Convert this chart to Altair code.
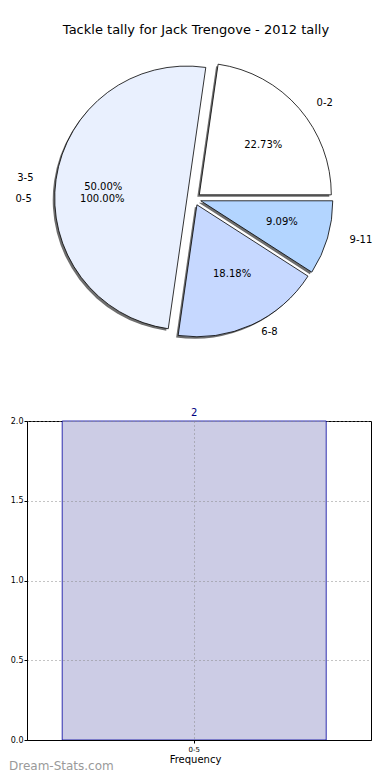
import altair as alt
import pandas as pd

title_text = "Tackle tally for Jack Trengove - 2012 tally"
slice_labels = ["0-2", "3-5", "6-8", "9-11"]
slice_counts = [5, 11, 4, 2]
slice_colors = ["#ffffff", "#e9f0fe", "#c6d8ff", "#b3d5ff"]
slice_explode = [0.05, 0.05, 0.05, 0.05]

outer_labels = ["0-5"]
outer_counts = [2]
outer_explode = [0.05]

bar_categories = ["0-5"]
bar_values = [2]
y_ticks = [0.0, 0.5, 1.0, 1.5, 2.0]
x_title = "Frequency"
watermark = "Dream-Stats.com"

W = 344
PIE_H = 413
BAR_H = 319
CX, CY = 167, 191
RX, RY = 141, 127
R = 132

pie_df = pd.DataFrame({
    "label": slice_labels,
    "count": slice_counts,
    "color": slice_colors,
    "explode": slice_explode,
    "order": list(range(len(slice_labels))),
})
outer_df = pd.DataFrame({
    "label": outer_labels,
    "count": outer_counts,
    "color": ["#ffffff"] * len(outer_labels),
    "explode": outer_explode,
    "order": list(range(len(outer_labels))),
})


def pie_base(df):
    return (
        alt.Chart(df)
        .transform_joinaggregate(total="sum(count)")
        .transform_window(cum="sum(count)", sort=[alt.SortField("order")])
        .transform_calculate(
            a0="360*(datum.cum-datum.count)/datum.total",
            a1="360*datum.cum/datum.total",
        )
        .transform_calculate(
            t0="(90-datum.a1)*PI/180",
            t1="(90-datum.a0)*PI/180",
            m="(90-(datum.a0+datum.a1)/2)*PI/180",
            pct="format(100*datum.count/datum.total, '.2f') + '%'",
        )
        .transform_calculate(
            px=f"{CX}+datum.explode*{RX}*sin(datum.m)",
            py=f"{CY}-datum.explode*{RY}*cos(datum.m)",
        )
        .transform_calculate(
            lx=f"datum.px+1.1*{RX}*sin(datum.m)",
            ly=f"datum.py-1.1*{RY}*cos(datum.m)",
            tx=f"datum.px+0.6*{RX}*sin(datum.m)",
            ty=f"datum.py-0.6*{RY}*cos(datum.m)",
            side="sin(datum.m) > 0 ? 1 : 0",
        )
    )


pos = dict(
    x=alt.X("px:Q", scale=None, axis=None),
    y=alt.Y("py:Q", scale=None, axis=None),
    theta=alt.Theta("t0:Q", scale=None, stack=None),
    theta2=alt.Theta2("t1:Q"),
)

base = pie_base(pie_df)
obase = pie_base(outer_df)

shadow = base.mark_arc(radius=R, color="#6e6e6e", xOffset=-2, yOffset=2).encode(**pos)
wedges = base.mark_arc(radius=R, stroke="black", strokeWidth=0.8).encode(
    fill=alt.Fill("color:N", scale=None), **pos
)


def labels(b, side, align):
    return b.transform_filter(f"datum.side == {side}").mark_text(
        align=align, baseline="middle", fontSize=10, color="black"
    ).encode(
        x=alt.X("lx:Q", scale=None, axis=None),
        y=alt.Y("ly:Q", scale=None, axis=None),
        text="label:N",
    )


def pcts(b):
    return b.mark_text(align="center", baseline="middle", fontSize=10, color="black").encode(
        x=alt.X("tx:Q", scale=None, axis=None),
        y=alt.Y("ty:Q", scale=None, axis=None),
        text="pct:N",
    )


title = alt.Chart(pd.DataFrame({"t": [title_text]})).mark_text(
    fontSize=13, color="black", baseline="middle"
).encode(text="t:N", x=alt.value(CX + 2), y=alt.value(22))

pie = alt.layer(
    shadow, wedges,
    labels(base, 1, "left"), labels(base, 0, "right"), pcts(base),
    labels(obase, 1, "left"), labels(obase, 0, "right"), pcts(obase),
    title,
).properties(width=W, height=PIE_H)

bar_df = pd.DataFrame({"category": bar_categories, "value": bar_values})

xenc = alt.X(
    "category:N",
    scale=alt.Scale(paddingInner=0, paddingOuter=0.1515, align=0.44),
    axis=alt.Axis(
        title=x_title, labelAngle=0, bandPosition=0.5, grid=True, gridDash=[1, 3],
        gridColor="#888888", labelFontSize=7, titleFontSize=10, titleFontWeight="normal",
        tickSize=3, domainColor="black", tickColor="black", labelColor="black",
        titleColor="black", zindex=1, titlePadding=2, labelPadding=2,
        titleX=168, titleAlign="center",
    ),
)
yenc = alt.Y(
    "value:Q",
    scale=alt.Scale(domain=[0, 2]),
    axis=alt.Axis(
        title=None, values=y_ticks, format=".1f", grid=True, gridDash=[1, 3],
        gridColor="#888888", labelFontSize=8, tickSize=3, domainColor="black",
        tickColor="black", labelColor="black", zindex=1, labelPadding=1,
    ),
)

bars = alt.Chart(bar_df).mark_bar(fill="#ccccE5", stroke="#0000a0", strokeWidth=0.8).encode(
    x=xenc, y=yenc
)
bar_text = alt.Chart(bar_df).mark_text(dy=-8, color="#000080", fontSize=10).encode(
    x=alt.X("category:N"), y=alt.Y("value:Q"), text="value:Q"
)
wm = alt.Chart(pd.DataFrame({"w": [watermark]})).mark_text(
    align="left", baseline="alphabetic", color="#9a9a9a", fontSize=12
).encode(text="w:N", x=alt.value(-18), y=alt.value(BAR_H + 30))

bar = alt.layer(bars, bar_text, wm).properties(
    width=W, height=BAR_H, view=alt.ViewBackground(stroke="black", strokeWidth=1)
)

chart = (
    alt.vconcat(pie, bar, spacing=0, bounds="flush")
    .properties(padding=0)
    .configure(font="DejaVu Sans")
    .configure_view(strokeWidth=0)
)

chart.save("out.html", embed_options={"renderer": "svg", "actions": False})
